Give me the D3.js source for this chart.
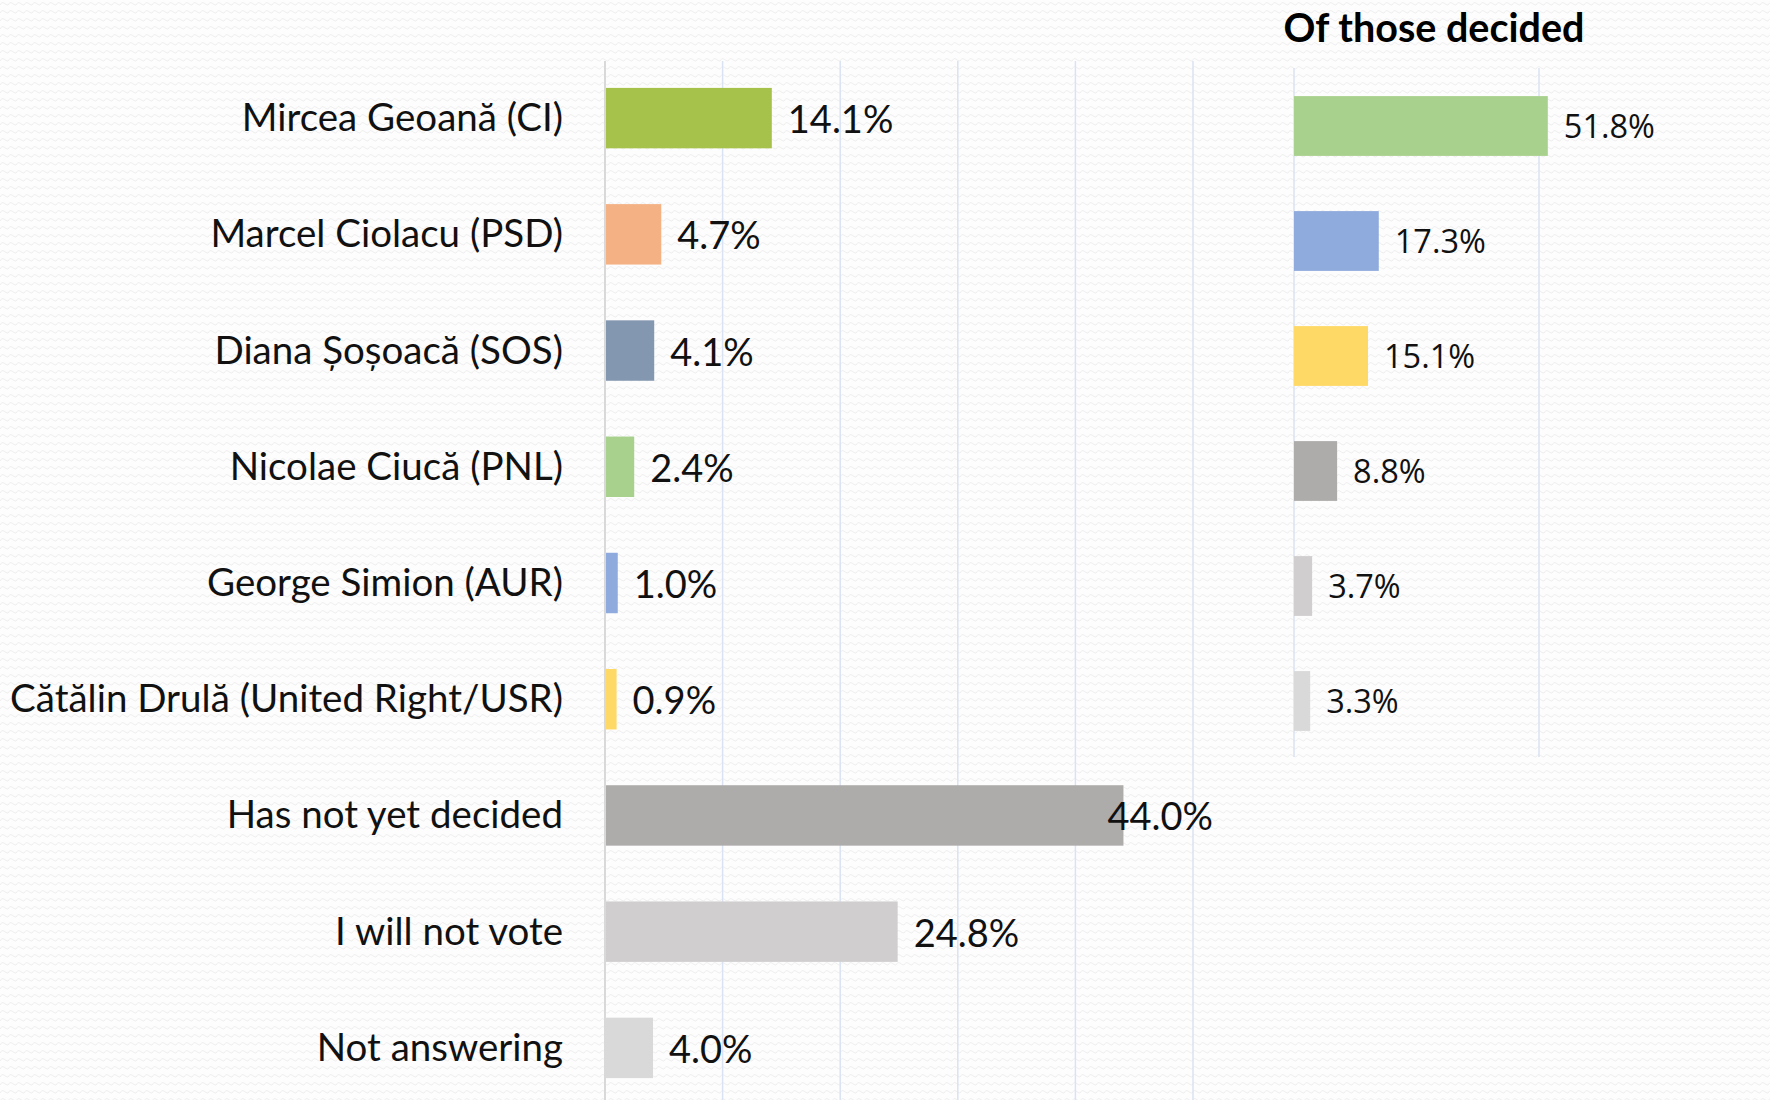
<!DOCTYPE html>
<html>
<head>
<meta charset="utf-8">
<script src="https://cdn.jsdelivr.net/npm/d3@7"></script>
<style>
  html, body { margin: 0; padding: 0; background: #fdfdfd; }
  svg { display: block; }
</style>
</head>
<body>
<svg id="chart" width="1770" height="1100"></svg>
<script>
// ---- data ----
const categories = [
  "Mircea Geoană (CI)",
  "Marcel Ciolacu (PSD)",
  "Diana Șoșoacă (SOS)",
  "Nicolae Ciucă (PNL)",
  "George Simion (AUR)",
  "Cătălin Drulă (United Right/USR)",
  "Has not yet decided",
  "I will not vote",
  "Not answering"
];
const values = [14.1, 4.7, 4.1, 2.4, 1.0, 0.9, 44.0, 24.8, 4.0];
const barColors = ["#a6c24a", "#f4b183", "#8497b0", "#a9d18e", "#8faadc", "#ffd966", "#aeabab", "#d0cece", "#d9d9d9"];

const decidedTitle = "Of those decided";
const decidedKeys = ["Mircea Geoană (CI)", "Marcel Ciolacu (PSD)", "Diana Șoșoacă (SOS)", "Nicolae Ciucă (PNL)", "George Simion (AUR)", "Cătălin Drulă (United Right/USR)"];
const decidedValues = [51.8, 17.3, 15.1, 8.8, 3.7, 3.3];
const decidedColors = ["#a9d18e", "#8faadc", "#ffd966", "#aeabab", "#d0cece", "#d9d9d9"];

const leftTicks = [0, 10, 20, 30, 40, 50];
const rightTicks = [0, 50];

// ---- drawing ----
const svg = d3.select("#chart");
const defs = svg.append("defs");
const pat = defs.append("pattern")
  .attr("id", "bgwave").attr("patternUnits", "userSpaceOnUse")
  .attr("width", 8).attr("height", 8);
pat.append("rect").attr("width", 8).attr("height", 8).attr("fill", "#fdfdfd");
pat.append("path")
  .attr("d", "M0,5 Q2,1 4,3 T8,5")
  .attr("fill", "none").attr("stroke", "#efefef").attr("stroke-width", 1);
svg.append("rect").attr("width", 1770).attr("height", 1100).attr("fill", "url(#bgwave)");

const labelFont = "Lato, 'Open Sans', sans-serif";
const numFont = "'Open Sans', 'Noto Sans', sans-serif";

// left chart
const x = d3.scaleLinear().domain([0, 50]).range([605, 1193]);
const y = d3.scaleBand().domain(categories).range([60, 1106]).paddingInner(0.48).paddingOuter(0.24);

const gL = svg.append("g");
gL.selectAll("line.grid").data(leftTicks.filter(t => t > 0)).enter().append("line")
  .attr("x1", d => x(d)).attr("x2", d => x(d))
  .attr("y1", 61).attr("y2", 1106)
  .attr("stroke", "#dae3f3").attr("stroke-width", 1.5);
gL.append("line")
  .attr("x1", x(0)).attr("x2", x(0)).attr("y1", 61).attr("y2", 1106)
  .attr("stroke", "#d9d9d9").attr("stroke-width", 2);

gL.selectAll("rect.bar").data(values).enter().append("rect")
  .attr("x", x(0) + 1)
  .attr("y", (d, i) => y(categories[i]))
  .attr("width", d => x(d) - x(0))
  .attr("height", y.bandwidth())
  .attr("fill", (d, i) => barColors[i]);

gL.selectAll("text.cat").data(categories).enter().append("text")
  .attr("x", 563)
  .attr("y", d => y(d) + y.bandwidth() / 2 + 13)
  .attr("text-anchor", "end")
  .attr("font-family", labelFont)
  .attr("font-size", 38.5)
  .attr("fill", "#111")
  .text(d => d);

const plotRight = 1213;
gL.selectAll("text.val").data(values).enter().append("text")
  .attr("y", (d, i) => y(categories[i]) + y.bandwidth() / 2 + 15)
  .attr("font-family", labelFont)
  .attr("font-size", 38)
  .attr("fill", "#111")
  .text(d => d.toFixed(1) + "%")
  .each(function(d) {
    const w = this.getComputedTextLength();
    let px = x(d) + 17;
    if (px + w > plotRight) px = plotRight - w;
    d3.select(this).attr("x", px);
  });

// right chart
const x2 = d3.scaleLinear().domain([0, 50]).range([1294, 1539]);
const y2 = d3.scaleBand().domain(decidedKeys).range([68.5, 758.5]).paddingInner(0.48).paddingOuter(0.24);
const gR = svg.append("g");
gR.selectAll("line.grid").data(rightTicks).enter().append("line")
  .attr("x1", d => x2(d)).attr("x2", d => x2(d))
  .attr("y1", 68).attr("y2", 757)
  .attr("stroke", "#dae3f3").attr("stroke-width", 1.5);
gR.selectAll("rect.bar").data(decidedValues).enter().append("rect")
  .attr("x", x2(0))
  .attr("y", (d, i) => y2(decidedKeys[i]))
  .attr("width", d => x2(d) - x2(0))
  .attr("height", y2.bandwidth())
  .attr("fill", (d, i) => decidedColors[i]);
gR.selectAll("text.val").data(decidedValues).enter().append("text")
  .attr("x", d => x2(d) + 16)
  .attr("y", (d, i) => y2(decidedKeys[i]) + y2.bandwidth() / 2 + 12)
  .attr("font-family", numFont)
  .attr("font-size", 32.5)
  .attr("fill", "#111")
  .text(d => d.toFixed(1) + "%");

svg.append("text")
  .attr("x", 1434).attr("y", 42)
  .attr("text-anchor", "middle")
  .attr("font-family", labelFont)
  .attr("font-weight", "bold")
  .attr("font-size", 39.5)
  .attr("fill", "#000")
  .text(decidedTitle);
</script>
</body>
</html>
